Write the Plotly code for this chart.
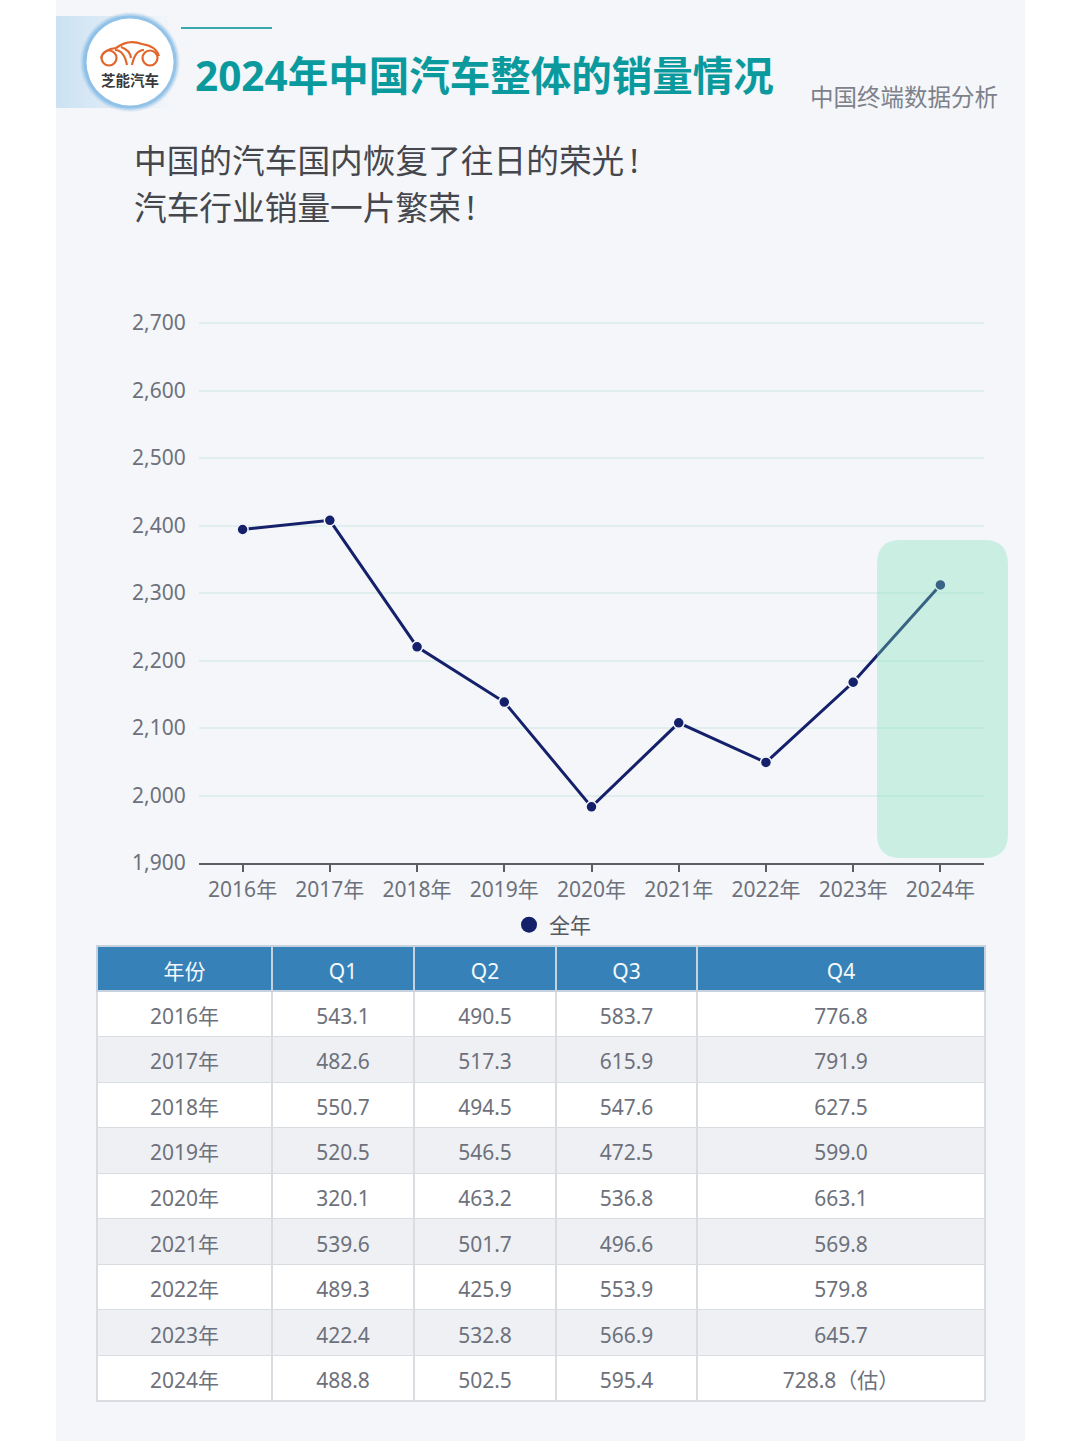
import plotly.graph_objects as go

years = ["2016年", "2017年", "2018年", "2019年", "2020年", "2021年", "2022年", "2023年", "2024年"]
full_year = [2394.1, 2407.7, 2220.3, 2138.5, 1983.2, 2107.7, 2049.0, 2167.8, 2312.0]
q1 = ["543.1", "482.6", "550.7", "520.5", "320.1", "539.6", "489.3", "422.4", "488.8"]
q2 = ["490.5", "517.3", "494.5", "546.5", "463.2", "501.7", "425.9", "532.8", "502.5"]
q3 = ["583.7", "615.9", "547.6", "472.5", "536.8", "496.6", "553.9", "566.9", "595.4"]
q4 = ["776.8", "791.9", "627.5", "599.0", "663.1", "569.8", "579.8", "645.7", "728.8（估）"]
table_head = ["年份", "Q1", "Q2", "Q3", "Q4"]
y_ticks = [1900, 2000, 2100, 2200, 2300, 2400, 2500, 2600, 2700]

W, H = 1080, 1441
FONT = "Noto Sans, Noto Sans CJK SC"
GREY = "#6d717c"
COL_W = [175, 142, 142, 141, 288]
ROW_H = 45.55


# pixel helpers, everything outside the plot is placed in page pixels
def px(x):
    return x / W


def py(y):
    return 1 - y / H


def rect(x0, y0, x1, y1, color, layer="below"):
    return dict(type="rect", xref="paper", yref="paper", x0=px(x0), x1=px(x1), y0=py(y0), y1=py(y1),
                fillcolor=color, line_width=0, layer=layer)


def circle(cx, cy, r, color, line=None, width=0):
    return dict(type="circle", xref="paper", yref="paper", x0=px(cx - r), x1=px(cx + r), y0=py(cy + r), y1=py(cy - r),
                fillcolor=color, line=dict(color=line or color, width=width), layer="below")


def path(cmds, color, width=2.2):
    # cmds is a list of (letter, x, y, ...) in page pixels
    out = []
    for c in cmds:
        nums = c[1:]
        pts = [f"{px(nums[i]):.5f},{py(nums[i + 1]):.5f}" for i in range(0, len(nums), 2)]
        out.append(c[0] + " ".join(pts))
    return dict(type="path", xref="paper", yref="paper", path=" ".join(out),
                line=dict(color=color, width=width), layer="below")


def rounded(x0, y0, x1, y1, r, color):
    d = [("M", x0 + r, y0), ("L", x1 - r, y0), ("Q", x1, y0, x1, y0 + r), ("L", x1, y1 - r),
         ("Q", x1, y1, x1 - r, y1), ("L", x0 + r, y1), ("Q", x0, y1, x0, y1 - r), ("L", x0, y0 + r),
         ("Q", x0, y0, x0 + r, y0)]
    s = path(d, color, 0)
    s["path"] += " Z"
    s.update(fillcolor=color, layer="above", line=dict(width=0))
    return s


fig = go.Figure()

fig.add_trace(go.Scatter(
    x=years, y=full_year, mode="lines+markers", showlegend=False,
    line=dict(color="#14206a", width=3),
    marker=dict(size=11, color="#14206a", line=dict(color="#f4f6f9", width=1.5)),
))
# separate entry so the legend dot is larger than the points
fig.add_trace(go.Scatter(
    x=[None], y=[None], mode="markers", name="全年",
    marker=dict(size=19, color="#14206a"),
))

blank = [[""] * len(years) for _ in table_head]
# grid and fills
fig.add_trace(go.Table(
    domain=dict(x=[px(97), px(985)], y=[py(1420), py(946)]),
    columnwidth=COL_W,
    header=dict(values=[""] * 5, height=45, fill_color="#3682b8", line=dict(color="#c6d3de", width=1.2)),
    cells=dict(
        values=blank, height=ROW_H,
        fill_color=[["#ffffff" if i % 2 == 0 else "#eef0f4" for i in range(len(years))]],
        line=dict(color="#d9dce1", width=1.2),
    ),
))
# go.Table has no vertical centring, so the text sits in a second table moved down
fig.add_trace(go.Table(
    domain=dict(x=[px(97), px(985)], y=[py(1430), py(955)]),
    columnwidth=COL_W,
    header=dict(
        values=table_head, height=45,
        fill_color="rgba(0,0,0,0)", line=dict(color="rgba(0,0,0,0)", width=0),
        font=dict(family=FONT, size=21, color="#f4f8fb"), align="center",
    ),
    cells=dict(
        values=[years, q1, q2, q3, q4], height=ROW_H,
        fill_color="rgba(0,0,0,0)", line=dict(color="rgba(0,0,0,0)", width=0),
        font=dict(family=FONT, size=21, color=GREY), align="center",
    ),
))

shapes = [rect(56, 0, 1025, H, "#f4f6f9")]

# header strip fading out to the right, then the logo badge
for i in range(16):
    shapes.append(rect(56 + i * 7, 16, 56 + (i + 1) * 7, 108, f"rgba(176,212,238,{0.58 * (1 - i / 16):.3f})"))
for r, a in [(50, 0.10), (49, 0.16), (48, 0.28), (46.5, 0.55)]:
    shapes.append(circle(130, 62, r, f"rgba(120,180,228,{a})"))
shapes.append(circle(130, 62, 43.5, "#ffffff"))

orange = "#e2662c"
shapes.append(path([("M", 101, 58), ("Q", 104, 49, 116, 48), ("Q", 128, 39, 142, 44), ("Q", 156, 46, 159, 56)], orange))
shapes.append(circle(109, 58, 7.5, "rgba(0,0,0,0)", orange, 2.2))
shapes.append(circle(150, 58, 7.5, "rgba(0,0,0,0)", orange, 2.2))
shapes.append(path([("M", 115, 50), ("Q", 124, 50, 127, 65)], orange))
shapes.append(path([("M", 121, 47), ("Q", 130, 50, 131, 58)], orange))
shapes.append(path([("M", 144, 50), ("Q", 135, 50, 132, 65)], orange))

shapes.append(rect(181, 27, 272, 29, "#3aa9ad"))

# highlight over the estimated year
shapes.append(rounded(877, 540, 1008, 858, 24, "rgba(124,226,183,0.35)"))


def note(text, x, y, size, color, anchor="left", bold=False):
    if bold:
        text = f"<b>{text}</b>"
    return dict(text=text, xref="paper", yref="paper", x=px(x), y=py(y), xanchor=anchor, yanchor="middle",
                showarrow=False, font=dict(family=FONT, size=size, color=color))


annotations = [
    note("芝能汽车", 130, 80, 14.5, "#3a3a3a", "center", True),
    note("2024年中国汽车整体的销量情况", 193, 76, 40.5, "#0a9a9e", bold=True),
    note("中国终端数据分析", 808, 97, 23.5, "#7d818a"),
    note("中国的汽车国内恢复了往日的荣光\u2009!", 132, 160, 32.7, "#45474d"),
    note("汽车行业销量一片繁荣\u2009!", 132, 207, 32.7, "#45474d"),
]

fig.update_layout(
    width=W, height=H, autosize=False,
    margin=dict(l=0, r=0, t=0, b=0, autoexpand=False),
    paper_bgcolor="#ffffff", plot_bgcolor="rgba(0,0,0,0)",
    font=dict(family=FONT, size=21, color=GREY),
    shapes=shapes, annotations=annotations,
    xaxis=dict(
        domain=[px(199), px(984)], type="category", range=[-0.5, 8.5],
        showgrid=False, showline=True, linecolor="#5a5d64", linewidth=1.5,
        ticks="outside", ticklen=7, tickcolor="#5a5d64", tickwidth=1.5,
        tickfont=dict(size=21, color=GREY),
    ),
    yaxis=dict(
        # a little headroom, plotly drops a grid line sitting right on the range end
        domain=[py(863), py(321)], range=[1900, 2703],
        tickvals=y_ticks, tickformat=",", zeroline=False, showline=False,
        gridcolor="#e0efed", gridwidth=1.5,
        ticks="outside", ticklen=8, tickcolor="rgba(0,0,0,0)",
        tickfont=dict(size=21, color=GREY),
    ),
    legend=dict(
        orientation="h", x=px(552.5), y=py(925), xanchor="center", yanchor="middle",
        bgcolor="rgba(0,0,0,0)", font=dict(size=21, color="#55585f"),
    ),
)

fig.write_html("out.html", config=dict(displayModeBar=False),
               post_script="document.body.style.margin='0';")
